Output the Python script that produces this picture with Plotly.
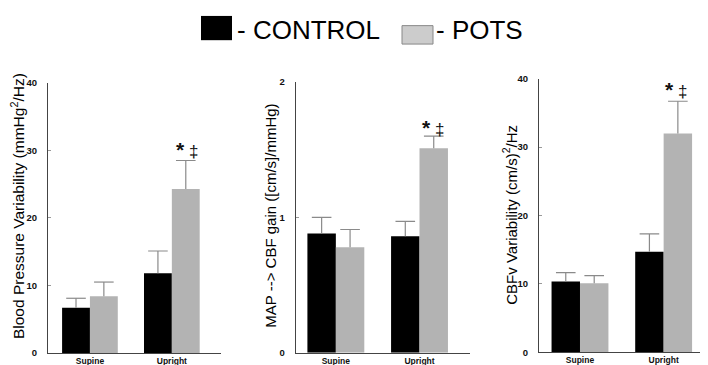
import plotly.graph_objects as go

categories = ["Supine", "Upright"]

bpv_control = [6.7, 11.8]
bpv_control_err = [1.4, 3.3]
bpv_pots = [8.4, 24.3]
bpv_pots_err = [2.1, 4.2]

gain_control = [0.88, 0.86]
gain_control_err = [0.12, 0.11]
gain_pots = [0.78, 1.51]
gain_pots_err = [0.13, 0.09]

cbfv_control = [10.35, 14.7]
cbfv_control_err = [1.3, 2.6]
cbfv_pots = [10.1, 32.0]
cbfv_pots_err = [1.1, 4.7]

y_ticks_1 = [0, 10, 20, 30, 40]
y_ticks_2 = [0, 1, 2]
y_ticks_3 = [0, 10, 20, 30, 40]

W, H = 708, 365
def px(x):
    return x / W
def py(y):
    return (H - y) / H

BLACK = "#000000"
GREY = "#b3b3b3"
ERR = "#8a8a8a"
FONT = "Liberation Sans, Arial, sans-serif"
BAR_W = 0.34
idx = list(range(len(categories)))

fig = go.Figure()
panels = [
    (bpv_control, bpv_control_err, bpv_pots, bpv_pots_err, "x", "y"),
    (gain_control, gain_control_err, gain_pots, gain_pots_err, "x2", "y2"),
    (cbfv_control, cbfv_control_err, cbfv_pots, cbfv_pots_err, "x3", "y3"),
]
for c, ce, p, pe, xa, ya in panels:
    for vals, errs, col, name, off in [(c, ce, BLACK, "CONTROL", -BAR_W / 2),
                                        (p, pe, GREY, "POTS", BAR_W / 2)]:
        xs = [i + off for i in idx]
        fig.add_trace(go.Bar(
            x=xs, y=vals, name=name, xaxis=xa, yaxis=ya, width=BAR_W,
            marker=dict(color=col, line=dict(width=0)),
            error_y=dict(type="data", array=errs, arrayminus=[0] * len(errs),
                         symmetric=False, color=ERR, thickness=1.2, width=0),
            showlegend=False,
        ))
        fig.add_trace(go.Scatter(
            x=xs, y=[v + e for v, e in zip(vals, errs)], xaxis=xa, yaxis=ya,
            mode="markers", showlegend=False, hoverinfo="skip",
            marker=dict(symbol="line-ew", size=14, color=ERR,
                        line=dict(color=ERR, width=1.2)),
        ))

def xaxis(dom, rng, anchor):
    return dict(domain=dom, range=rng, tickvals=idx, ticktext=["<b>%s</b>" % c for c in categories],
                showline=True, anchor=anchor,
                linecolor="#444444", linewidth=1, ticks="", showgrid=False,
                zeroline=False, fixedrange=True, ticklabelstandoff=0,
                tickfont=dict(family=FONT, size=8.5, color="#111111"))

def yaxis(dom, rng, tv, anchor):
    return dict(domain=dom, range=rng, tickvals=tv, ticktext=["<b>%g</b>" % t for t in tv],
                showline=True,
                linecolor="#444444", linewidth=1, ticks="inside", ticklen=3,
                tickcolor="#999999", showgrid=False, zeroline=False,
                anchor=anchor, fixedrange=True, ticklabelstandoff=8,
                tickfont=dict(family=FONT, size=9.5, color="#111111"))

fig.update_layout(
    width=W, height=H, margin=dict(l=0, r=0, t=0, b=0),
    paper_bgcolor="white", plot_bgcolor="white",
    barmode="overlay",
    xaxis=xaxis([px(40), px(213)], [-0.512, 1.6], "y"),
    yaxis=yaxis([py(349.5), py(71)], [0, 40], y_ticks_1, "x"),
    xaxis2=xaxis([px(287.7), px(461.7)], [-0.48, 1.6], "y2"),
    yaxis2=yaxis([py(349.3), py(70)], [0, 2], y_ticks_2, "x2"),
    xaxis3=xaxis([px(531), px(707.5)], [-0.49, 1.62], "y3"),
    yaxis3=yaxis([py(348.7), py(66.7)], [0, 40], y_ticks_3, "x3"),
)

# axis titles
titles = [
    ("Blood Pressure Variability (mmHg<sup>2</sup>/Hz)", 10, 198, 15.5),
    ("MAP --> CBF gain ([cm/s]/mmHg)", 263, 208, 15),
    ("CBFv Variability (cm/s)<sup>2</sup>/Hz", 502, 207, 15),
]
for t, x, y, s in titles:
    fig.add_annotation(text=t, x=px(x), y=py(y), xref="paper", yref="paper",
                       textangle=-90, showarrow=False, xanchor="center", yanchor="middle",
                       font=dict(family=FONT, size=s, color="#000000"))

# significance markers
for x, y in [(179, 140), (425, 117), (668, 78)]:
    fig.add_annotation(text="<b><span style='font-size:21px'>*</span></b> ‡", x=px(x), y=py(y),
                       xref="paper", yref="paper",
                       showarrow=False, xanchor="center", yanchor="middle",
                       font=dict(family=FONT, size=17, color="#111111"))

# legend
fig.add_shape(type="rect", xref="paper", yref="paper",
              x0=px(193), x1=px(224), y0=py(27), y1=py(2),
              fillcolor=BLACK, line=dict(width=0))
fig.add_shape(type="rect", xref="paper", yref="paper",
              x0=px(394), x1=px(425), y0=py(31), y1=py(12),
              fillcolor="#cccccc", line=dict(width=1, color="#888888"))
fig.add_annotation(text="- CONTROL", x=px(227), y=py(16), xref="paper", yref="paper",
                   showarrow=False, xanchor="left", yanchor="middle",
                   font=dict(family=FONT, size=26, color="#000000"))
fig.add_annotation(text="- POTS", x=px(426), y=py(17), xref="paper", yref="paper",
                   showarrow=False, xanchor="left", yanchor="middle",
                   font=dict(family=FONT, size=26, color="#000000"))

fig.write_html("out.html")
